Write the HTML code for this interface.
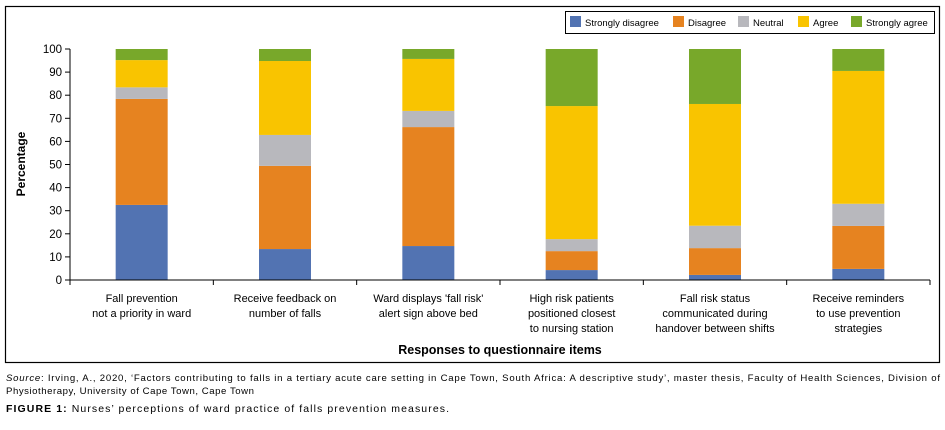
<!DOCTYPE html>
<html><head><meta charset="utf-8"><style>
body{margin:0;width:945px;height:425px;background:#fff;font-family:"Liberation Sans",sans-serif;overflow:hidden}
svg text{font-family:"Liberation Sans",sans-serif}
</style></head><body>
<svg width="945" height="425">
<rect x="5.5" y="6.5" width="934" height="356" fill="none" stroke="#000" stroke-width="1.2"/>
<g id="plot"></g>
<g>
<rect x="565.5" y="11.5" width="369" height="22" fill="#fff" stroke="#000"/>
<g id="legend"></g>
</g>
<text x="0" y="0" transform="translate(25,164) rotate(-90)" text-anchor="middle" font-size="12" font-weight="bold">Percentage</text>
<text x="500" y="354" text-anchor="middle" font-size="12.5" font-weight="bold">Responses to questionnaire items</text>
<text x="6" y="381" font-size="9.6" textLength="934" lengthAdjust="spacing"><tspan font-style="italic">Source</tspan>: Irving, A., 2020, ‘Factors contributing to falls in a tertiary acute care setting in Cape Town, South Africa: A descriptive study’, master thesis, Faculty of Health Sciences, Division of</text>
<text x="6" y="394" font-size="9.6" textLength="248" lengthAdjust="spacing">Physiotherapy, University of Cape Town, Cape Town</text>
<text x="6" y="412" font-size="10.5" textLength="443" lengthAdjust="spacing"><tspan font-weight="bold">FIGURE 1:</tspan> Nurses’ perceptions of ward practice of falls prevention measures.</text>
</svg>
<script>
const categories=[["Fall prevention","not a priority in ward"],["Receive feedback on","number of falls"],["Ward displays 'fall risk'","alert sign above bed"],["High risk patients","positioned closest","to nursing station"],["Fall risk status","communicated during","handover between shifts"],["Receive reminders","to use prevention","strategies"]];
const seriesNames=["Strongly disagree","Disagree","Neutral","Agree","Strongly agree"];
const stronglyDisagree=[32.5,13.4,14.7,4.3,2.2,4.8];
const disagree=[45.9,36.0,51.5,8.2,11.6,18.6];
const neutral=[5.0,13.4,7.0,5.2,9.7,9.6];
const agree=[11.8,32.0,22.5,57.6,52.7,57.5];
const stronglyAgree=[4.8,5.2,4.3,24.7,23.8,9.5];
const yTicks=[0,10,20,30,40,50,60,70,80,90,100];
const colors=["#5273b2","#e68320","#b8b8bd","#f9c400","#78a82a"];
const series=[stronglyDisagree,disagree,neutral,agree,stronglyAgree];
const NS="http://www.w3.org/2000/svg";
const plot=document.getElementById('plot');
const X0=70,X1=930,Y0=280,Y1=49;
const bw=(X1-X0)/categories.length;
const y=v=>Y0-(v/100)*(Y0-Y1);
const xc=i=>X0+bw*(i+0.5);
function mk(t,a){const e=document.createElementNS(NS,t);for(const k in a)e.setAttribute(k,a[k]);return e;}
yTicks.forEach(t=>{
 const l=mk('line',{x1:X0-5,x2:X0,y1:y(t),y2:y(t),stroke:'#000'});
 
 
 plot.appendChild(l);
 const tx=mk('text',{x:X0-8,y:y(t)+4,'text-anchor':'end','font-size':'11.5'});
 tx.textContent=t;
 
 
 plot.appendChild(tx);
});
categories.forEach((c,i)=>{
 let base=0;
 series.forEach((s,j)=>{
  const r=mk('rect',{x:xc(i)-26,width:52,y:y(base+s[i]),height:y(base)-y(base+s[i]),fill:colors[j]});
  
  
  plot.appendChild(r);
  base+=s[i];
 });
 c.forEach((line,k)=>{
  const tx=mk('text',{x:xc(i),y:302+k*15,'text-anchor':'middle','font-size':'11'});
  tx.textContent=line;
  
  
  plot.appendChild(tx);
 });
});
for(let i=0;i<=categories.length;i++){
 const l=mk('line',{x1:X0+bw*i,x2:X0+bw*i,y1:Y0,y2:Y0+5,stroke:'#000'});
 
 
 plot.appendChild(l);
}
const ya=mk('line',{x1:X0,x2:X0,y1:Y1,y2:Y0,stroke:'#000'});


plot.appendChild(ya);
const xa=mk('line',{x1:X0,x2:X1,y1:Y0,y2:Y0,stroke:'#000'});


plot.appendChild(xa);
const lg=document.getElementById('legend');
const lx=[570,673,738,798,851];
seriesNames.forEach((n,j)=>{
 const r=mk('rect',{x:lx[j],y:16,width:11,height:11,fill:colors[j]});
 
 
 lg.appendChild(r);
 const t=mk('text',{x:lx[j]+15,y:26,'font-size':'9.5'});
 t.textContent=n;
 
 
 lg.appendChild(t);
});
</script>
</body></html>
